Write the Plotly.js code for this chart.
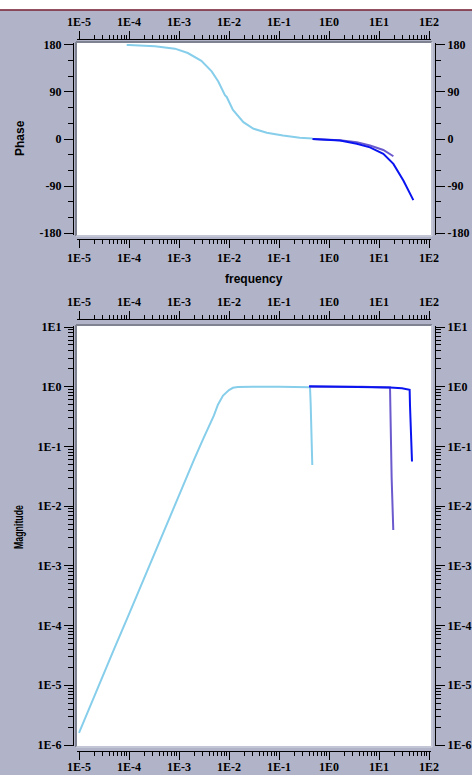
<!DOCTYPE html>
<html>
<head>
<meta charset="utf-8">
<script src="https://cdn.plot.ly/plotly-3.0.1.min.js"></script>
<style>
  html, body { margin: 0; padding: 0; background: #b1b4c9; }
  #plot { width: 472px; height: 775px; }
</style>
</head>
<body>
<div id="plot"></div>
<script>
// Bode plot: phase (degrees) and magnitude against frequency for three runs.

// ---- phase panel ----
const phaseFreqLight = [9e-5, 1e-4, 3.3e-4, 8.3e-4, 1.5e-3, 2.8e-3, 4.5e-3, 5.7e-3, 6.1e-3, 8.3e-3, 9e-3, 1.2e-2, 1.94e-2, 3.1e-2, 5.7e-2, 0.12, 0.26, 0.47];
const phaseLight     = [180, 180, 177.5, 173, 164.6, 149.8, 129.4, 112.6, 110, 84, 80.5, 55.5, 32.3, 19.6, 11.9, 6.7, 2.3, 1];

const phaseFreqPurple = [0.47, 1.66, 3.6, 6.6, 12.2, 19.4];
const phasePurple     = [0, -2.5, -6, -12.5, -21, -33];

const phaseFreqBlue = [0.47, 1.66, 3.6, 6.6, 12.2, 19.4, 30.9, 38.7, 48.6];
const phaseBlue     = [0, -3, -9, -16, -28.5, -47.7, -80, -99, -117];

// ---- magnitude panel ----
const magFreqLight = [1e-5, 2e-5, 5e-5, 1e-4, 2e-4, 5e-4, 1e-3, 2e-3, 3e-3, 4e-3, 5e-3, 6e-3, 7.6e-3, 1e-2, 1.2e-2, 1.5e-2, 2e-2, 3e-2, 0.1, 0.3, 0.417, 0.43, 0.451, 0.463];
const magLight     = [1.6e-6, 6.5e-6, 4.0e-5, 1.55e-4, 6.2e-4, 3.9e-3, 1.6e-2, 6.0e-2, 0.13, 0.22, 0.33, 0.50, 0.71, 0.88, 0.96, 0.99, 1.0, 1.0, 1.0, 1.0, 0.98, 0.52, 0.157, 0.049];

const magFreqPurple = [0.40, 4.6, 16.6, 17.0, 17.9, 19.3];
const magPurple     = [1.0, 1.0, 0.97, 0.21, 0.03, 0.004];

const magFreqBlue = [0.40, 4.6, 16.6, 28.8, 41.0, 41.7, 43.7, 45.7];
const magBlue     = [1.02, 1.0, 0.97, 0.94, 0.89, 0.48, 0.16, 0.056];

// ---- tick labels ----
const freqTickVals = [1e-5, 1e-4, 1e-3, 1e-2, 1e-1, 1e0, 1e1, 1e2];
const freqTickText = ['1E-5', '1E-4', '1E-3', '1E-2', '1E-1', '1E0', '1E1', '1E2'];
const phaseTickVals = [-180, -90, 0, 90, 180];
const phaseTickText = ['-180', '-90', '0', '90', '180'];
const magTickVals = [1e-6, 1e-5, 1e-4, 1e-3, 1e-2, 1e-1, 1e0, 1e1];
const magTickText = ['1E-6', '1E-5', '1E-4', '1E-3', '1E-2', '1E-1', '1E0', '1E1'];

const COL_LIGHT = '#87ceeb';
const COL_PURPLE = '#6a5acd';
const COL_BLUE = '#0a14f0';
const BG = '#b1b4c9';

// pixel -> paper helpers
const W = 472, H = 775;
const px = v => v / W;
const py = v => 1 - v / H;

function minorLogTicks(fromExp, toExp) {
  const out = [];
  for (let e = fromExp; e < toExp; e++) {
    for (let k = 2; k <= 9; k++) out.push(k * Math.pow(10, e));
  }
  return out;
}

const tickFont = { family: 'Liberation Serif, serif', size: 12, weight: 'bold', color: '#000' };
const titleFont = { family: 'Liberation Sans, Arial, sans-serif', size: 12, weight: 'bold', color: '#000' };

const hiddenAxis = {
  showline: false, ticks: '', showticklabels: false,
  showgrid: false, zeroline: false, fixedrange: true
};

const lineAxis = {
  showline: true, linecolor: '#000', linewidth: 1,
  ticks: 'outside', tickcolor: '#000', tickwidth: 1,
  showgrid: false, zeroline: false, fixedrange: true,
  tickfont: tickFont, tickmode: 'array'
};

const freqRange = [-5.04, 2.04];
const phaseRange = [-183.8, 183.8];
const magRange = [-6.0167, 1.0167];

function freqAxis(over, pos, side, standoff) {
  return Object.assign({}, lineAxis, {
    overlaying: over, anchor: 'free', position: pos, side: side,
    type: 'log', range: freqRange,
    tickvals: freqTickVals, ticktext: freqTickText, ticklen: 8,
    ticklabelstandoff: standoff || 0,
    minor: { tickmode: 'array', tickvals: minorLogTicks(-5, 2), ticks: 'outside', ticklen: 4, tickcolor: '#000', tickwidth: 1, showgrid: false }
  });
}
function phaseAxis(over, pos, side) {
  return Object.assign({}, lineAxis, {
    overlaying: over, anchor: 'free', position: pos, side: side,
    range: phaseRange,
    tickvals: phaseTickVals, ticktext: phaseTickText, ticklen: 9,
    minor: { tickmode: 'linear', tick0: 0, dtick: 30, ticks: 'outside', ticklen: 5, tickcolor: '#000', tickwidth: 1, showgrid: false }
  });
}
function magAxis(over, pos, side) {
  return Object.assign({}, lineAxis, {
    overlaying: over, anchor: 'free', position: pos, side: side,
    type: 'log', range: magRange,
    tickvals: magTickVals, ticktext: magTickText, ticklen: 9,
    minor: { tickmode: 'array', tickvals: minorLogTicks(-6, 1), ticks: 'outside', ticklen: 5, tickcolor: '#000', tickwidth: 1, showgrid: false }
  });
}

function series(x, y, color, xa, ya) {
  return { type: 'scatter', mode: 'lines', x: x, y: y, xaxis: xa, yaxis: ya,
           line: { color: color, width: 2 }, hoverinfo: 'skip', showlegend: false };
}

// Each run sits on its own (identically scaled) axis pair, so every framing
// axis belongs to a drawn subplot; later pairs are painted on top.
const data = [
  series(phaseFreqLight, phaseLight, COL_LIGHT, 'x', 'y'),
  series(phaseFreqPurple, phasePurple, COL_PURPLE, 'x2', 'y2'),
  series(phaseFreqBlue, phaseBlue, COL_BLUE, 'x3', 'y3'),
  series(magFreqLight, magLight, COL_LIGHT, 'x4', 'y4'),
  series(magFreqPurple, magPurple, COL_PURPLE, 'x5', 'y5'),
  series(magFreqBlue, magBlue, COL_BLUE, 'x6', 'y6')
];

// plot frames (white areas) in pixels
const frameTop = { l: 77, r: 431, t: 43, b: 235 };
const frameBot = { l: 77, r: 431, t: 326, b: 746 };

function frameShapes(f) {
  return [
    { type: 'line', xref: 'paper', yref: 'paper', x0: px(f.l - 1), x1: px(f.r + 1), y0: py(f.t - 1), y1: py(f.t - 1), line: { color: '#7f8291', width: 2 } },
    { type: 'line', xref: 'paper', yref: 'paper', x0: px(f.l - 1), x1: px(f.l - 1), y0: py(f.t - 1), y1: py(f.b + 1), line: { color: '#7f8291', width: 2 } },
    { type: 'line', xref: 'paper', yref: 'paper', x0: px(f.l - 1), x1: px(f.r + 1), y0: py(f.b + 1), y1: py(f.b + 1), line: { color: '#d6d8e2', width: 1 } },
    { type: 'line', xref: 'paper', yref: 'paper', x0: px(f.r + 1), x1: px(f.r + 1), y0: py(f.t - 1), y1: py(f.b + 1), line: { color: '#d6d8e2', width: 1 } }
  ];
}

const shapes = [
  { type: 'rect', xref: 'paper', yref: 'paper', x0: 0, x1: 1, y0: py(9.5), y1: 1, fillcolor: '#ffffff', line: { width: 0 } },
  { type: 'line', xref: 'paper', yref: 'paper', x0: 0, x1: 1, y0: py(10), y1: py(10), line: { color: '#7d2232', width: 1.5 } }
].concat(frameShapes(frameTop), frameShapes(frameBot));

const annotations = [
  { text: 'Phase', xref: 'paper', yref: 'paper', x: px(20), y: py(138), textangle: -90, showarrow: false, xanchor: 'center', yanchor: 'middle', font: titleFont },
  { text: 'Magnitude', xref: 'paper', yref: 'paper', x: px(19), y: py(527), textangle: -90, showarrow: false, xanchor: 'center', yanchor: 'middle', font: titleFont },
  { text: 'frequency', xref: 'paper', yref: 'paper', x: px(254), y: py(279), showarrow: false, xanchor: 'center', yanchor: 'middle', font: titleFont }
];

const layout = {
  width: W, height: H,
  margin: { l: 0, r: 0, t: 0, b: 0, pad: 0 },
  paper_bgcolor: BG, plot_bgcolor: '#ffffff',
  showlegend: false,
  xaxis: Object.assign({}, hiddenAxis, { domain: [px(frameTop.l), px(frameTop.r)], type: 'log', range: freqRange, anchor: 'y' }),
  yaxis: Object.assign({}, hiddenAxis, { domain: [py(frameTop.b), py(frameTop.t)], range: phaseRange, anchor: 'x' }),
  xaxis2: freqAxis('x', py(39), 'top'),
  xaxis3: freqAxis('x', py(239), 'bottom'),
  yaxis2: phaseAxis('y', px(73), 'left'),
  yaxis3: phaseAxis('y', px(435), 'right'),
  xaxis4: Object.assign({}, hiddenAxis, { domain: [px(frameBot.l), px(frameBot.r)], type: 'log', range: freqRange, anchor: 'y4' }),
  yaxis4: Object.assign({}, hiddenAxis, { domain: [py(frameBot.b), py(frameBot.t)], type: 'log', range: magRange, anchor: 'x4' }),
  xaxis5: freqAxis('x4', py(319), 'top'),
  xaxis6: freqAxis('x4', py(751), 'bottom', -3),
  yaxis5: magAxis('y4', px(73), 'left'),
  yaxis6: magAxis('y4', px(435), 'right'),
  shapes: shapes,
  annotations: annotations
};

Plotly.newPlot('plot', data, layout, { staticPlot: true, displayModeBar: false }).then(gd => {
  // the magnitude title is set condensed
  gd.querySelectorAll('.annotation-text').forEach(t => {
    if (t.textContent === 'Magnitude') {
      t.setAttribute('textLength', '44');
      t.setAttribute('lengthAdjust', 'spacingAndGlyphs');
    }
  });
});
</script>
</body>
</html>
